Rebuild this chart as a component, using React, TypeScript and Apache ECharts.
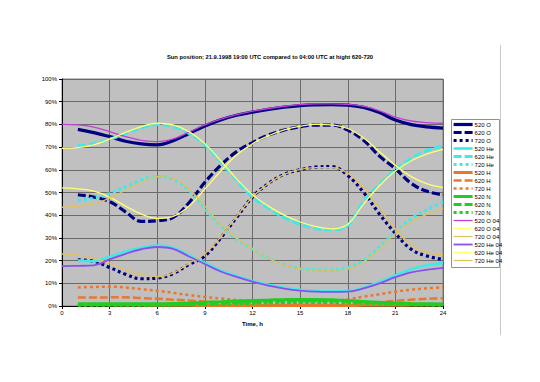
import React, { useEffect, useRef } from "react";
import * as echarts from "echarts";

const hours19 = [1, 2, 3, 4, 5, 6, 7, 8, 9, 10, 11, 12, 13, 14, 15, 16, 17, 18, 19, 20, 21, 22, 23, 24];
const hours04 = [0, 1, 2, 3, 4, 5, 6, 7, 8, 9, 10, 11, 12, 13, 14, 15, 16, 17, 18, 19, 20, 21, 22, 23, 24];

const xTicks = ["0", "3", "6", "9", "12", "15", "18", "21", "24"];

// 19:00 UTC series (x = 1..24)
const o520 = [77.8, 76.4, 74.6, 72.6, 71.4, 71.0, 72.8, 76.0, 79.3, 82.0, 84.0, 85.4, 86.6, 87.6, 88.3, 88.6, 88.7, 88.5, 87.5, 85.2, 81.9, 79.9, 78.9, 78.4];
const o620 = [49.0, 48.0, 46.0, 41.5, 37.3, 37.6, 39.0, 45.5, 54.5, 62.0, 68.0, 72.0, 75.3, 77.5, 79.0, 79.7, 79.7, 77.5, 73.0, 66.0, 60.5, 54.0, 50.5, 49.0];
const o720 = [20.3, 19.7, 17.0, 14.0, 12.0, 12.3, 14.3, 18.3, 22.0, 30.0, 39.0, 48.0, 54.0, 58.0, 60.0, 61.2, 61.4, 57.5, 50.0, 40.5, 32.0, 25.0, 22.0, 20.5];
const he520 = [20.0, 19.7, 21.7, 24.0, 25.6, 26.6, 25.6, 22.3, 19.0, 15.6, 13.2, 11.0, 9.3, 8.0, 7.1, 6.6, 6.5, 6.6, 8.0, 10.6, 13.5, 16.2, 17.9, 19.0];
const he620 = [70.5, 71.5, 73.5, 76.0, 78.5, 80.0, 79.0, 76.0, 71.0, 63.5, 55.5, 48.0, 43.0, 39.0, 36.0, 34.2, 33.6, 35.5, 46.0, 53.5, 60.0, 65.0, 68.5, 70.5];
const he720 = [46.5, 47.5, 49.5, 52.5, 55.5, 57.0, 55.8, 51.0, 43.0, 35.5, 29.5, 25.0, 21.0, 18.2, 16.5, 15.9, 15.8, 17.0, 20.0, 26.0, 32.5, 38.5, 42.5, 46.0];
const h520 = [0.5, 0.5, 0.5, 0.4, 0.4, 0.3, 0.3, 0.3, 0.2, 0.2, 0.2, 0.2, 0.2, 0.2, 0.2, 0.2, 0.2, 0.2, 0.3, 0.3, 0.3, 0.4, 0.4, 0.5];
const h620 = [3.7, 3.7, 3.8, 3.8, 3.5, 3.2, 2.8, 2.4, 2.0, 1.6, 1.2, 0.9, 0.7, 0.5, 0.5, 0.5, 0.6, 0.8, 1.2, 1.7, 2.3, 2.8, 3.2, 3.4];
const h720 = [8.2, 8.4, 8.5, 8.2, 7.4, 6.7, 5.8, 4.8, 4.0, 3.3, 2.6, 2.0, 1.6, 1.3, 1.2, 1.4, 2.0, 3.0, 4.1, 5.2, 6.3, 7.2, 7.8, 8.2];
const n520 = [1.0, 1.0, 1.0, 1.0, 1.0, 1.0, 1.1, 1.3, 1.6, 1.9, 2.2, 2.4, 2.6, 2.8, 2.9, 2.9, 2.7, 2.4, 2.0, 1.6, 1.3, 1.1, 1.0, 0.9];
const n620 = [0.6, 0.6, 0.6, 0.6, 0.6, 0.6, 0.7, 0.8, 1.0, 1.3, 1.6, 1.9, 2.1, 2.2, 2.3, 2.3, 2.2, 2.0, 1.7, 1.3, 1.0, 0.8, 0.7, 0.6];
const n720 = [0.3, 0.3, 0.3, 0.3, 0.3, 0.3, 0.4, 0.5, 0.6, 0.8, 1.0, 1.2, 1.4, 1.5, 1.6, 1.6, 1.5, 1.4, 1.2, 1.0, 0.7, 0.5, 0.4, 0.3];

// 04:00 UTC series (x = 0..24)
const o520_04 = [80.0, 79.8, 78.8, 76.8, 74.6, 73.0, 72.4, 73.6, 76.6, 79.8, 82.3, 84.3, 85.8, 87.0, 88.0, 88.7, 89.0, 89.0, 88.8, 87.9, 86.0, 83.2, 81.5, 80.8, 80.5];
const o620_04 = [52.0, 51.6, 50.6, 48.0, 44.0, 40.5, 38.6, 39.5, 44.0, 51.5, 59.5, 66.5, 71.5, 75.0, 77.6, 79.2, 80.0, 79.8, 78.2, 74.0, 68.0, 62.0, 57.0, 53.8, 52.2];
const o720_04 = [22.9, 22.5, 21.0, 19.0, 16.0, 13.8, 12.9, 14.5, 18.8, 23.0, 30.5, 39.5, 48.0, 54.0, 58.0, 60.2, 61.0, 61.0, 58.5, 52.0, 43.0, 34.0, 27.0, 23.5, 22.5];
const he520_04 = [17.6, 17.7, 17.9, 20.5, 23.0, 25.0, 26.0, 25.2, 21.8, 18.5, 15.2, 12.8, 10.7, 9.0, 7.7, 6.8, 6.3, 6.2, 6.3, 7.8, 10.0, 12.7, 14.8, 16.0, 16.8];
const he620_04 = [69.5, 69.8, 71.0, 73.5, 76.5, 79.0, 80.5, 79.8, 76.8, 71.5, 64.0, 56.0, 49.0, 44.0, 40.0, 37.0, 35.0, 34.0, 36.0, 45.0, 53.0, 59.5, 64.0, 67.0, 69.0];
const he720_04 = [43.5, 44.0, 45.0, 47.5, 51.0, 54.5, 57.0, 56.3, 51.5, 44.0, 36.0, 30.0, 25.0, 21.0, 18.0, 16.3, 15.8, 15.8, 16.2, 19.5, 25.0, 32.0, 37.0, 40.5, 43.0];

const FONT = '"Liberation Sans", Arial, sans-serif';
const NAVY = "#000080";
const CYAN = "#40E8E8";
const ORANGE = "#E87830";
const GREEN = "#22CC22";
const VIOLET = "#C040D8";
const PURPLE = "#8A50E8";
const YELLOW = "#FFFF70";
const TAN = "#E0C060";

const LONG = [8, 3];
const SHORT = [3, 3];

type Def = { name: string; xs: number[]; ys: number[]; color: string; width: number; dash: any };

const defs: Def[] = [
  { name: "520 O", xs: hours19, ys: o520, color: NAVY, width: 3.2, dash: "solid" },
  { name: "620 O", xs: hours19, ys: o620, color: NAVY, width: 3.2, dash: LONG },
  { name: "720 O", xs: hours19, ys: o720, color: NAVY, width: 3.2, dash: SHORT },
  { name: "520 He", xs: hours19, ys: he520, color: CYAN, width: 2.6, dash: "solid" },
  { name: "620 He", xs: hours19, ys: he620, color: CYAN, width: 3.2, dash: LONG },
  { name: "720 He", xs: hours19, ys: he720, color: CYAN, width: 3.2, dash: SHORT },
  { name: "520 H", xs: hours19, ys: h520, color: ORANGE, width: 3, dash: "solid" },
  { name: "620 H", xs: hours19, ys: h620, color: ORANGE, width: 2.5, dash: LONG },
  { name: "720 H", xs: hours19, ys: h720, color: ORANGE, width: 2.5, dash: SHORT },
  { name: "520 N", xs: hours19, ys: n520, color: GREEN, width: 3, dash: "solid" },
  { name: "620 N", xs: hours19, ys: n620, color: GREEN, width: 3, dash: LONG },
  { name: "720 N", xs: hours19, ys: n720, color: GREEN, width: 3, dash: SHORT },
  { name: "520 O 04", xs: hours04, ys: o520_04, color: VIOLET, width: 1.3, dash: "solid" },
  { name: "620 O 04", xs: hours04, ys: o620_04, color: YELLOW, width: 1.3, dash: "solid" },
  { name: "720 O 04", xs: hours04, ys: o720_04, color: TAN, width: 1.3, dash: "solid" },
  { name: "520 He 04", xs: hours04, ys: he520_04, color: PURPLE, width: 1.8, dash: "solid" },
  { name: "620 He 04", xs: hours04, ys: he620_04, color: YELLOW, width: 1.3, dash: "solid" },
  { name: "720 He 04", xs: hours04, ys: he720_04, color: TAN, width: 1.3, dash: "solid" },
];

export default function App() {
  const ref = useRef<HTMLDivElement>(null);

  useEffect(() => {
    if (!ref.current) return;
    const chart = echarts.init(ref.current, null, { renderer: "svg" });

    const series = defs.map((d) => ({
      name: d.name,
      type: "line",
      data: d.xs.map((x, i) => [x, d.ys[i]]),
      symbol: "none",
      showSymbol: false,
      smooth: 0.4,
      lineStyle: { color: d.color, width: d.width, type: d.dash, cap: "butt" },
      itemStyle: { color: d.color },
      emphasis: { disabled: true },
      silent: true,
    }));

    const option: any = {
      animation: false,
      backgroundColor: "#ffffff",
      textStyle: { fontFamily: FONT },
      title: {
        text: "Sun position; 21.9.1998 19:00 UTC compared to 04:00 UTC at hight 620-720",
        left: "center",
        top: 54,
        padding: 0,
        textStyle: { fontSize: 5.8, fontWeight: "bold", color: "#000", fontFamily: FONT },
      },
      grid: {
        left: 62,
        right: 97,
        top: 79,
        bottom: 76,
        show: true,
        backgroundColor: "#C0C0C0",
        borderColor: "#808080",
        borderWidth: 1,
      },
      xAxis: {
        type: "value",
        min: 0,
        max: 24,
        interval: 3,
        name: "Time, h",
        nameLocation: "middle",
        nameGap: 15,
        nameTextStyle: { fontSize: 6, fontWeight: "bold", color: "#000", fontFamily: FONT },
        axisLine: { show: true, lineStyle: { color: "#000", width: 1 } },
        axisTick: { show: true, length: 3, lineStyle: { color: "#000" } },
        axisLabel: {
          fontSize: 6,
          color: "#000",
          margin: 4,
          fontFamily: FONT,
          formatter: (v: number) => xTicks[Math.round(v / 3)] ?? String(v),
        },
        splitLine: { show: true, lineStyle: { color: "#6a6a6a", width: 1 } },
      },
      yAxis: {
        type: "value",
        min: 0,
        max: 100,
        interval: 10,
        axisLine: { show: true, lineStyle: { color: "#000", width: 1 } },
        axisTick: { show: true, length: 3, lineStyle: { color: "#000" } },
        axisLabel: { fontSize: 6, color: "#000", margin: 5, fontFamily: FONT, formatter: "{value}%" },
        splitLine: { show: true, lineStyle: { color: "#6a6a6a", width: 1 } },
      },
      legend: {
        orient: "vertical",
        left: 452,
        top: 121.5,
        padding: 0,
        itemWidth: 19,
        itemHeight: 6,
        itemGap: 2,
        selectedMode: false,
        data: defs.map((d) => d.name),
        itemStyle: { opacity: 0 },
        lineStyle: { width: "inherit" },
        textStyle: { fontSize: 6, color: "#000", fontFamily: FONT, padding: [0, 0, 0, -3] },
      },
      graphic: [
        {
          type: "rect",
          z: 0,
          shape: { x: 451.5, y: 119.5, width: 48, height: 148 },
          style: { fill: "#ffffff", stroke: "#909090", lineWidth: 1 },
          silent: true,
        },
        {
          type: "line",
          z: 0,
          shape: { x1: 500.5, y1: 45, x2: 500.5, y2: 335 },
          style: { stroke: "#c8c8c8", lineWidth: 1 },
          silent: true,
        },
      ],
      series,
    };

    chart.setOption(option);
    return () => chart.dispose();
  }, []);

  return (
    <div
      ref={ref}
      style={{ position: "fixed", left: 0, top: 0, width: 540, height: 382, background: "#fff" }}
    />
  );
}
